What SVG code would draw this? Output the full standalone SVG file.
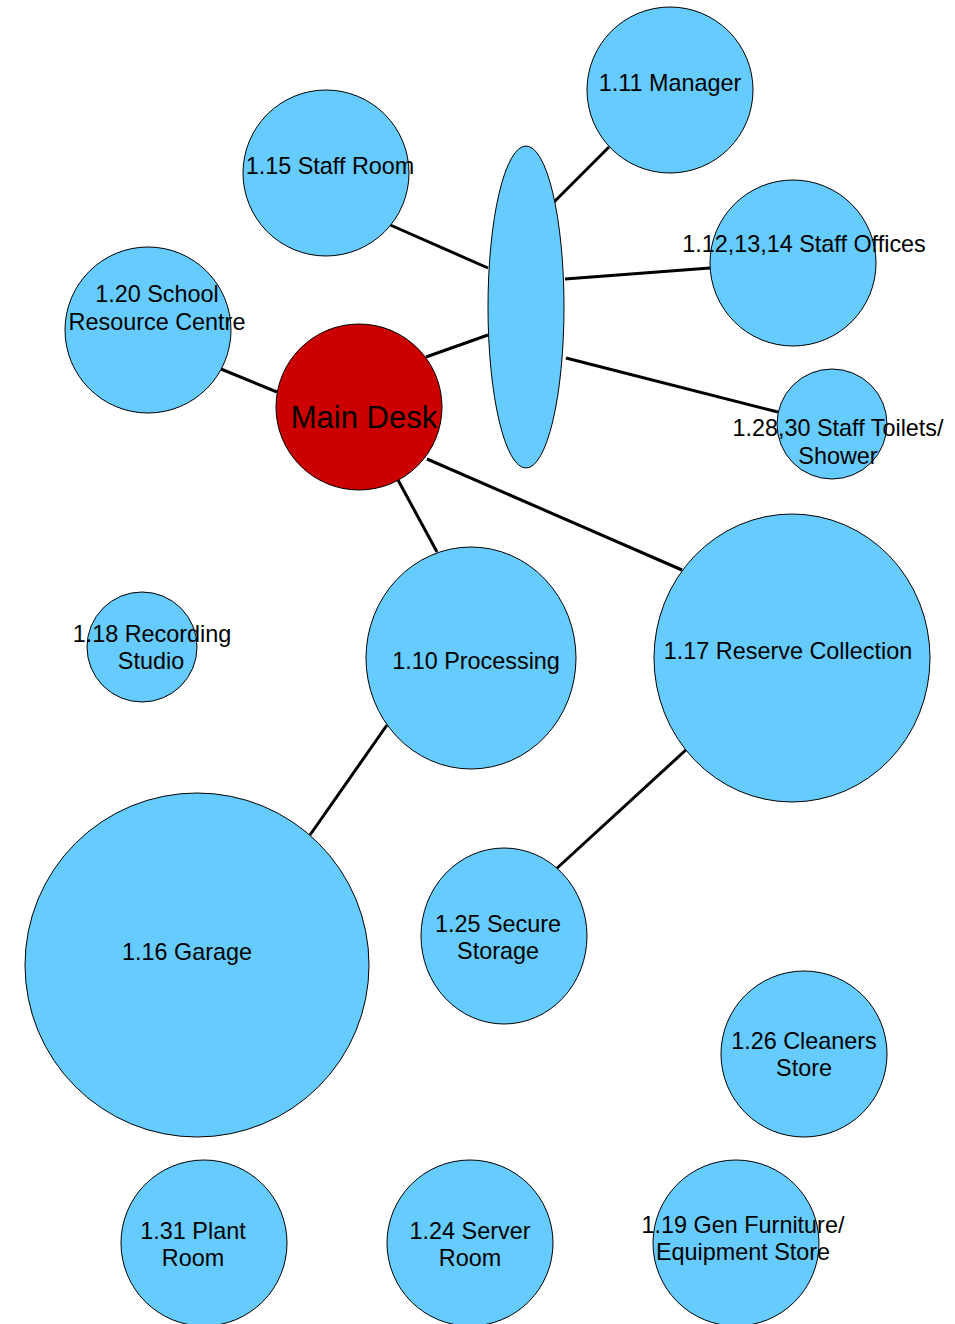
<svg xmlns="http://www.w3.org/2000/svg" width="955" height="1324" viewBox="0 0 955 1324">
<style>
.n{fill:#66CCFF;stroke:#000;stroke-width:1}
.r{fill:#CC0000;stroke:#000;stroke-width:1}
.c line{stroke:#000;stroke-width:3}
text{font-family:"Liberation Sans",Arial,sans-serif;font-size:23.4px;fill:#000;text-anchor:middle}
</style>
<rect width="955" height="1324" fill="#fff"/>
<g class="c" id="connectors">
<line x1="609" y1="147" x2="554" y2="202"/>
<line x1="388" y1="224" x2="488" y2="268"/>
<line x1="565" y1="279" x2="710" y2="268"/>
<line x1="566" y1="358" x2="778" y2="412"/>
<line x1="426" y1="357" x2="488" y2="335"/>
<line x1="221" y1="369" x2="277" y2="392"/>
<line x1="427" y1="459" x2="682" y2="570"/>
<line x1="398" y1="480" x2="437" y2="552"/>
<line x1="387" y1="725" x2="310" y2="835"/>
<line x1="688" y1="748" x2="555" y2="870"/>
</g>
<g id="hub"><ellipse class="n" cx="526" cy="307" rx="38" ry="161"/></g>
<g id="n111"><circle class="n" cx="670" cy="90" r="83"/><text x="670" y="91">1.11 Manager</text></g>
<g id="n115"><circle class="n" cx="326" cy="173" r="83"/><text x="330" y="174">1.15 Staff Room</text></g>
<g id="n112"><circle class="n" cx="793" cy="263" r="83"/><text x="804" y="252">1.12,13,14 Staff Offices</text></g>
<g id="n120"><circle class="n" cx="148" cy="330" r="83"/><text x="157" y="302">1.20 School</text><text x="157" y="330">Resource Centre</text></g>
<g id="main"><circle class="r" cx="359" cy="407" r="83"/><text x="364" y="428" style="font-size:31px">Main Desk</text></g>
<g id="n128"><circle class="n" cx="832" cy="424" r="55"/><text x="838" y="436">1.28,30 Staff Toilets/</text><text x="838" y="464">Shower</text></g>
<g id="n118"><circle class="n" cx="142" cy="647" r="55"/><text x="152" y="642">1.18 Recording</text><text x="151" y="669">Studio</text></g>
<g id="n110"><ellipse class="n" cx="471" cy="658" rx="105" ry="111"/><text x="476" y="669">1.10 Processing</text></g>
<g id="n117"><ellipse class="n" cx="792" cy="658" rx="138" ry="144"/><text x="788" y="659">1.17 Reserve Collection</text></g>
<g id="n116"><circle class="n" cx="197" cy="965" r="172"/><text x="187" y="960">1.16 Garage</text></g>
<g id="n125"><ellipse class="n" cx="504" cy="936" rx="83" ry="88"/><text x="498" y="932">1.25 Secure</text><text x="498" y="959">Storage</text></g>
<g id="n126"><circle class="n" cx="804" cy="1054" r="83"/><text x="804" y="1049">1.26 Cleaners</text><text x="804" y="1076">Store</text></g>
<g id="n131"><circle class="n" cx="204" cy="1243" r="83"/><text x="193" y="1239">1.31 Plant</text><text x="193" y="1266">Room</text></g>
<g id="n124"><circle class="n" cx="470" cy="1243" r="83"/><text x="470" y="1239">1.24 Server</text><text x="470" y="1266">Room</text></g>
<g id="n119"><circle class="n" cx="736" cy="1243" r="83"/><text x="743" y="1233">1.19 Gen Furniture/</text><text x="743" y="1260">Equipment Store</text></g>
</svg>
